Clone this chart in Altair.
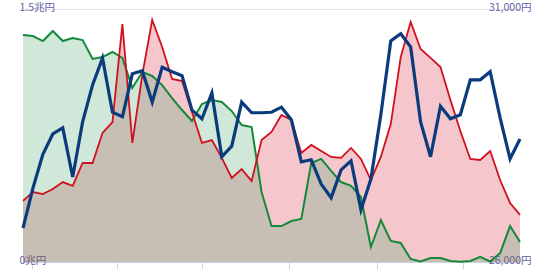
import altair as alt
import pandas as pd

# left axis series (兆円)
red_vals = [0.362, 0.415, 0.403, 0.433, 0.474, 0.451, 0.587, 0.587, 0.765, 0.830,
            1.411, 0.706, 1.109, 1.435, 1.275, 1.085, 1.073, 0.889, 0.706, 0.723,
            0.617, 0.498, 0.551, 0.480, 0.723, 0.771, 0.872, 0.842, 0.646, 0.694,
            0.658, 0.623, 0.617, 0.676, 0.611, 0.486, 0.623, 0.818, 1.215, 1.423,
            1.263, 1.210, 1.156, 0.960, 0.777, 0.611, 0.605, 0.658, 0.486, 0.350,
            0.279]
green_vals = [1.346, 1.340, 1.310, 1.370, 1.310, 1.328, 1.316, 1.204, 1.215, 1.245,
              1.210, 1.032, 1.127, 1.103, 1.049, 0.972, 0.901, 0.836, 0.937, 0.960,
              0.949, 0.895, 0.812, 0.800, 0.415, 0.213, 0.213, 0.243, 0.255, 0.587,
              0.611, 0.540, 0.474, 0.451, 0.385, 0.089, 0.249, 0.125, 0.113, 0.018,
              0.003, 0.024, 0.024, 0.006, 0.002, 0.006, 0.030, 0.003, 0.053, 0.213,
              0.119]
# right axis series (円)
blue_vals = [26670, 27460, 28130, 28530, 28650, 27680, 28770, 29500, 30030, 28960,
             28870, 29720, 29780, 29160, 29850, 29760, 29680, 29000, 28830, 29340,
             28080, 28290, 29160, 28950, 28950, 28960, 29060, 28810, 27980, 28020,
             27540, 27270, 27820, 28000, 27030, 27640, 28910, 30370, 30510, 30250,
             28770, 28080, 29080, 28830, 28910, 29600, 29600, 29760, 28850, 28040,
             28430]

x_ticks = [0.9, 9.46, 18.0, 26.76, 35.6, 44.27]
left_ticks = [0, 1.5]
right_ticks = [26000, 31000]

df = pd.DataFrame({
    "i": list(range(len(red_vals))),
    "red": red_vals,
    "green": green_vals,
    "blue": blue_vals,
})

FONT = "Noto Sans CJK JP"
LBL = "#5f61a6"

x_scale = alt.Scale(domain=[0, len(red_vals) - 1], nice=False, zero=False)
x_axis = alt.Axis(values=x_ticks, labels=False, grid=False, domainColor="#cdd3ea",
                  tickColor="#cdd3ea", tickSize=7, title=None)
x_enc = alt.X("i:Q", scale=x_scale, axis=x_axis)

yL_scale = alt.Scale(domain=[0, 1.5], nice=False, zero=True)
left_axis = alt.Axis(values=left_ticks, orient="left", ticks=False, domain=False,
                     labelAlign="left", labelPadding=4, labelBaseline="alphabetic",
                     labelOffset=1.5,
                     labelFlush=False, labelExpr="datum.value + '兆円'",
                     grid=True, gridColor="#e4e4ea", title=None,
                     labelFont=FONT, labelFontSize=10.5, labelColor=LBL)

yR_scale = alt.Scale(domain=[26000, 31000], nice=False, zero=False)
right_axis = alt.Axis(values=right_ticks, orient="right", ticks=False, domain=False,
                      labelAlign="right", labelPadding=11, labelBaseline="alphabetic",
                      labelOffset=1.5,
                      labelFlush=False, labelExpr="format(datum.value, ',') + '円'",
                      grid=False, title=None,
                      labelFont=FONT, labelFontSize=10.5, labelColor=LBL)

base = alt.Chart(df)

red_area = base.mark_area(color="#d0021b", opacity=0.22).encode(
    x=x_enc, y=alt.Y("red:Q", scale=yL_scale, axis=left_axis))
green_area = base.mark_area(color="#3fa36b", opacity=0.25).encode(
    x=x_enc, y=alt.Y("green:Q", scale=yL_scale, axis=left_axis))
green_line = base.mark_line(color="#15893a", strokeWidth=2).encode(
    x=x_enc, y=alt.Y("green:Q", scale=yL_scale, axis=left_axis))
red_line = base.mark_line(color="#d0101e", strokeWidth=1.8).encode(
    x=x_enc, y=alt.Y("red:Q", scale=yL_scale, axis=left_axis))

left = alt.layer(red_area, green_area, green_line, red_line)

blue_line = base.mark_line(color="#0b3b7c", strokeWidth=3.2).encode(
    x=x_enc, y=alt.Y("blue:Q", scale=yR_scale, axis=right_axis))

chart = alt.layer(left, blue_line).resolve_scale(y="independent").properties(
    width=497, height=253,
    autosize=alt.AutoSizeParams(type="none"),
    padding={"left": 23, "top": 9, "right": 30, "bottom": 8},
).configure_view(stroke=None)

chart.save("out.html", embed_options={"renderer": "svg", "actions": False})
